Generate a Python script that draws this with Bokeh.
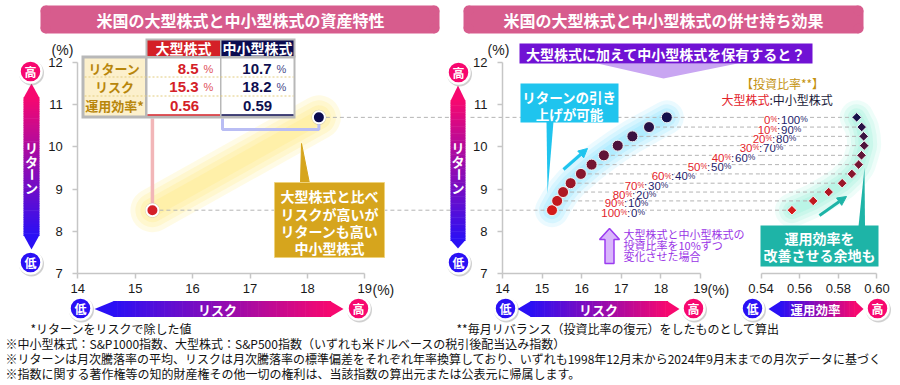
import numpy as np
from bokeh.plotting import figure
from bokeh.models import Range1d, LinearAxis, FixedTicker, Arrow, NormalHead
from bokeh.core.properties import value
from bokeh.embed import file_html
from bokeh.resources import INLINE

# ---------------- data ----------------
assets = ["大型株式", "中小型株式"]
asset_return = [8.5, 10.7]
asset_risk = [15.3, 18.2]
asset_eff = [0.56, 0.59]
table_rows = ["リターン", "リスク", "運用効率*"]

ratio_large = [100, 90, 80, 70, 60, 50, 40, 30, 20, 10, 0]
ratio_small = [0, 10, 20, 30, 40, 50, 60, 70, 80, 90, 100]
mix_risk = [15.25, 15.38, 15.53, 15.72, 15.98, 16.25, 16.56, 16.91, 17.28, 17.70, 18.15]
mix_return = [8.50, 8.72, 8.93, 9.14, 9.36, 9.58, 9.80, 10.03, 10.25, 10.47, 10.70]
mix_eff = [0.556, 0.567, 0.575, 0.582, 0.587, 0.5905, 0.592, 0.5934, 0.5931, 0.5921, 0.5895]

return_ticks = [7, 8, 9, 10, 11, 12]
return_tick_labels = ["7", "8", "9", "10", "11", "12"]
risk_ticks = [14, 15, 16, 17, 18, 19]
risk_tick_labels = ["14", "15", "16", "17", "18", "19"]
eff_ticks = [0.54, 0.56, 0.58, 0.60]
eff_tick_labels = ["0.54", "0.56", "0.58", "0.60"]

title_left = "米国の大型株式と中小型株式の資産特性"
title_right = "米国の大型株式と中小型株式の併せ持ち効果"
callout_lines = ["大型株式と比べ", "リスクが高いが", "リターンも高い", "中小型株式"]
question = "大型株式に加えて中小型株式を保有すると？"
cyan_lines = ["リターンの引き", "上げが可能"]
teal_lines = ["運用効率を", "改善させる余地も"]
purple_lines = ["大型株式と中小型株式の", "投資比率を10%ずつ", "変化させた場合"]
ratio_title = "【投資比率**】"
footnote_left = "*リターンをリスクで除した値"
footnote_right = "**毎月リバランス（投資比率の復元）をしたものとして算出"
footnotes = [
    "※中小型株式：S&P1000指数、大型株式：S&P500指数（いずれも米ドルベースの税引後配当込み指数）",
    "※リターンは月次騰落率の平均、リスクは月次騰落率の標準偏差をそれぞれ年率換算しており、いずれも1998年12月末から2024年9月末までの月次データに基づく",
    "※指数に関する著作権等の知的財産権その他一切の権利は、当該指数の算出元または公表元に帰属します。",
]

# ---------------- layout ----------------
PX0, PX1, PY0, PY1 = 0, 900, 0, 385
JP = value("Noto Sans CJK JP")
LAT = value("Liberation Sans")

p = figure(width=PX1 - PX0, height=PY1 - PY0, x_range=Range1d(PX0, PX1), y_range=Range1d(PY1, PY0),
           x_axis_type=None, y_axis_type=None, toolbar_location=None, output_backend="svg",
           min_border=0, outline_line_color=None, background_fill_color="white",
           border_fill_color="white")
p.title.visible = False
p.xgrid.visible = False
p.ygrid.visible = False


def span(d0, p0, ppu, lo, hi):
    return Range1d(start=d0 + (lo - p0) / ppu, end=d0 + (hi - p0) / ppu)


R1 = (14, 77.3, 57.4)
R2 = (14, 502.0, 39.6)
EF = (0.54, 760.5, 1933.0)
RT = (7, 273.0, -42.2)
p.extra_x_ranges = {"r1": span(*R1, PX0, PX1), "r2": span(*R2, PX0, PX1), "eff": span(*EF, PX0, PX1)}
p.extra_y_ranges = {"ret": span(*RT, PY1, PY0)}


def at(sc, px):
    return sc[0] + (px - sc[1]) / sc[2]


def hexrgb(c):
    c = c.lstrip("#")
    return [int(c[i:i + 2], 16) for i in (0, 2, 4)]


def interp(c1, c2, t):
    a, b = hexrgb(c1), hexrgb(c2)
    return "#%02x%02x%02x" % tuple(int(round(a[k] + (b[k] - a[k]) * t)) for k in range(3))


def txt(x, y, s, size, color, bold=False, align="center", font=JP, **kw):
    p.text(x=[x], y=[y], text=[s], text_font=font, text_font_size=f"{size}px",
           text_font_style="bold" if bold else "normal", text_color=color,
           text_align=align, text_baseline="middle", **kw)


def rrect(l, r, t, b, rad, color):
    p.quad(left=[l + rad], right=[r - rad], top=[t], bottom=[b], fill_color=color, line_color=None)
    p.quad(left=[l], right=[r], top=[t + rad], bottom=[b - rad], fill_color=color, line_color=None)
    p.circle(x=[l + rad, r - rad, l + rad, r - rad], y=[t + rad, t + rad, b - rad, b - rad],
             radius=rad, fill_color=color, line_color=None)


HIGH = "#f7086f"
LOW = "#2a10f5"


def hgrad(xlt, xlb, xrb, xrt, yc, h, cl, cr, n=60):
    xs = np.linspace(xlb, xrb, n + 1)
    cols = [interp(cl, cr, (i + 0.5) / n) for i in range(n)]
    p.quad(left=xs[:-1], right=xs[1:] + 0.6, top=yc - h / 2, bottom=yc + h / 2, fill_color=cols, line_color=None)
    p.patch([xlb + 0.5, xlt, xlb + 0.5], [yc - h / 2, yc, yc + h / 2], fill_color=cl, line_color=None)
    p.patch([xrb - 0.5, xrt, xrb - 0.5], [yc - h / 2, yc, yc + h / 2], fill_color=cr, line_color=None)


def vgrad(xc, w, ytt, ytb, ybb, ybt, ct, cb, n=60):
    ys = np.linspace(ytb, ybb, n + 1)
    cols = [interp(ct, cb, (i + 0.5) / n) for i in range(n)]
    p.quad(left=xc - w / 2, right=xc + w / 2, top=ys[:-1], bottom=ys[1:] + 0.6, fill_color=cols, line_color=None)
    p.patch([xc - w / 2, xc, xc + w / 2], [ytb + 0.5, ytt, ytb + 0.5], fill_color=ct, line_color=None)
    p.patch([xc - w / 2, xc, xc + w / 2], [ybb - 0.5, ybt, ybb - 0.5], fill_color=cb, line_color=None)


def badge(x, y, ch, color):
    p.scatter([x + 1], [y + 1.5], size=25, fill_color="#777777", fill_alpha=0.35, line_color=None)
    p.scatter([x], [y], size=22, fill_color=color, line_color="white", line_width=2.5)
    txt(x, y, ch, 12, "white", bold=True)


def vertical_label(xc, ys, chars):
    for yy, ch in zip(ys, chars):
        txt(xc, yy, ch, 13, "white", bold=True, angle=(np.pi / 2 if ch == "ー" else 0))


def add_axis(xr, yr, fixed, bounds, ticks, labels, side, standoff):
    ax = LinearAxis(x_range_name=xr, y_range_name=yr, fixed_location=fixed, bounds=bounds,
                    ticker=FixedTicker(ticks=ticks, minor_ticks=[]),
                    major_label_overrides={t: l for t, l in zip(ticks, labels)})
    ax.axis_line_color = "#c6c6c6"
    ax.axis_line_width = 1.5
    ax.major_tick_line_color = "#c6c6c6"
    ax.major_tick_line_width = 1.5
    ax.major_tick_in = 0
    ax.major_tick_out = 5
    ax.minor_tick_line_color = None
    ax.major_label_text_font = "Liberation Sans"
    ax.major_label_text_font_size = "13px"
    ax.major_label_text_color = "#1a1a1a"
    ax.major_label_standoff = standoff
    p.add_layout(ax, side)


# ---------------- title banners ----------------
rrect(40, 439, 5, 33, 5, "#d75c8d")
txt(240, 19.5, title_left, 16, "white", bold=True)
rrect(463, 863, 5, 33, 5, "#d75c8d")
txt(663, 19.5, title_right, 16, "white", bold=True)

# ================= LEFT CHART =================
vgrad(31, 16, 83, 97, 235, 249, HIGH, LOW)
vertical_label(31, [147, 161, 174, 187], list("リターン"))
badge(30, 71, "高", HIGH)
badge(30, 262, "低", LOW)
hgrad(94, 113, 330, 343, 308.5, 16, LOW, HIGH)
txt(217, 308.5, "リスク", 13, "white", bold=True)
badge(80, 308, "低", LOW)
badge(358, 308, "高", HIGH)

# yellow glow
for w, a in [(44, 0.22), (34, 0.25), (24, 0.3), (14, 0.35)]:
    p.line(asset_risk, asset_return, x_range_name="r1", y_range_name="ret", line_color="#ffec8a",
           line_alpha=a, line_width=w, line_cap="round")

# dashed reference lines
p.segment(x0=asset_risk, y0=asset_return, x1=[at(R1, 452)] * 2, y1=asset_return, x_range_name="r1",
          y_range_name="ret", line_color="#b4b4b4", line_dash="4 3", line_width=1)

# connectors from table
p.segment(x0=[asset_risk[0]], y0=[asset_return[0]], x1=[asset_risk[0]], y1=[at(RT, 118)],
          x_range_name="r1", y_range_name="ret", line_color="#f2b6b8", line_width=3.5)
p.line(x=[at(R1, 222), at(R1, 222), asset_risk[1], asset_risk[1]],
       y=[at(RT, 118), at(RT, 129), at(RT, 129), asset_return[1]],
       x_range_name="r1", y_range_name="ret", line_color="#b9bdf4", line_width=3)

# points
p.scatter(asset_risk, asset_return, x_range_name="r1", y_range_name="ret", size=15,
          fill_color="#888888", fill_alpha=0.3, line_color=None)
p.scatter(asset_risk, asset_return, x_range_name="r1", y_range_name="ret", size=12,
          fill_color=["#d42027", "#0b0b4f"], line_color="white", line_width=2)

# table
p.quad(left=[145], right=[295], top=[38], bottom=[57], fill_color="#b8b8b8", line_color=None)
p.quad(left=[81], right=[295], top=[55], bottom=[118], fill_color="#b8b8b8", line_color=None)
p.quad(left=[147, 221], right=[219.5, 293], top=[40, 40], bottom=[55.5, 55.5],
       fill_color=["#d42027", "#0b0b50"], line_color=None)
p.quad(left=[84], right=[144.5], top=[58], bottom=[115], fill_color="#fcf0cc", line_color=None)
p.quad(left=[147, 221], right=[219.5, 293], top=[58, 58], bottom=[115, 115],
       fill_color="white", line_color=None)
p.segment(x0=[84, 84], y0=[76.5, 95.5], x1=[293, 293], y1=[76.5, 95.5], line_color="#e3cc7e",
          line_dash="2 2", line_width=1)
p.segment(x0=[147, 221], y0=[114.5, 114.5], x1=[219.5, 293], y1=[114.5, 114.5],
          line_color=["#d42027", "#0b0b50"], line_width=1.5)
txt(183, 47.5, assets[0], 14, "white", bold=True)
txt(257, 47.5, assets[1], 14, "white", bold=True)
row_y = [68, 86, 105]
for yy, lab in zip(row_y, table_rows):
    txt(114, yy, lab, 13, "#b8860b", bold=True)
col_cols = ["#d42027", "#0f0f4f"]
pct_cols = ["#e0505a", "#4a4a8a"]
col_right = [198, 271]
col_center = [184, 257]
for k in range(2):
    txt(col_right[k], row_y[0], f"{asset_return[k]:.1f}", 15, col_cols[k], bold=True, align="right", font=LAT)
    txt(col_right[k] + 10, row_y[0], "%", 11, pct_cols[k], font=LAT)
    txt(col_right[k], row_y[1], f"{asset_risk[k]:.1f}", 15, col_cols[k], bold=True, align="right", font=LAT)
    txt(col_right[k] + 10, row_y[1], "%", 11, pct_cols[k], font=LAT)
    txt(col_center[k], row_y[2], f"{asset_eff[k]:.2f}", 15, col_cols[k], bold=True, font=LAT)

# callout
p.patch([300, 309, 301], [183, 183, 143], fill_color="#d6a51d", line_color="#d6a51d")
p.quad(left=[274], right=[384], top=[182], bottom=[257], fill_color="#d6a51d", line_color="#eed27c", line_width=1)
for yy, s in zip([195, 213, 230, 247], callout_lines):
    txt(329, yy, s, 14, "white", bold=True)

add_axis("r1", "ret", 7, (14, 19), risk_ticks, risk_tick_labels, "below", 5)
add_axis("r1", "ret", 14, (7, 12), return_ticks, return_tick_labels, "left", 10)
txt(62, 49, "(%)", 14, "#222222", font=LAT)
txt(372, 289, "(%)", 14, "#222222", align="left", font=LAT)

# ================= RIGHT CHART =================
vgrad(457.5, 15, 85, 100, 240, 248, HIGH, LOW)
vertical_label(457.5, [147, 161, 174, 187], list("リターン"))
badge(458, 72, "高", HIGH)
badge(458, 262, "低", LOW)
hgrad(517, 530, 667, 679, 308.5, 16, LOW, HIGH)
txt(598, 308.5, "リスク", 13, "white", bold=True)
badge(505, 308, "低", LOW)
badge(693, 308, "高", HIGH)
hgrad(768, 780, 855, 863, 308.5, 16, LOW, HIGH)
txt(815, 308.5, "運用効率", 12.5, "white", bold=True)
badge(752, 308, "低", LOW)
badge(877, 308, "高", HIGH)

# glows
for w, a in [(34, 0.18), (26, 0.22), (18, 0.28), (11, 0.35)]:
    p.line(mix_risk, mix_return, x_range_name="r2", y_range_name="ret", line_color="#8fe4ff",
           line_alpha=a, line_width=w, line_cap="round")
    p.line(mix_eff, mix_return, x_range_name="eff", y_range_name="ret", line_color="#9ff2dc",
           line_alpha=a, line_width=w, line_cap="round")

# dashed level lines
n = len(mix_return)
p.segment(x0=[at(R2, 470)] * 2, y0=[mix_return[0], mix_return[-1]], x1=[mix_risk[0], mix_risk[-1]],
          y1=[mix_return[0], mix_return[-1]], x_range_name="r2", y_range_name="ret",
          line_color="#b4b4b4", line_dash="4 3", line_width=1)
p.segment(x0=mix_risk, y0=mix_return, x1=[at(R2, 760.5)] * n, y1=mix_return, x_range_name="r2",
          y_range_name="ret", line_color="#b4b4b4", line_dash="4 3", line_width=1)
p.segment(x0=[0.54] * n, y0=mix_return, x1=mix_eff, y1=mix_return, x_range_name="eff",
          y_range_name="ret", line_color="#b4b4b4", line_dash="4 3", line_width=1)

# ratio labels
colon_px = [628, 625, 633, 645, 672, 708, 732, 760, 773, 778, 778]
RED, NAVY = "#e3242b", "#1d1d6b"
for i in range(n):
    cx = colon_px[i]
    yy = mix_return[i] - 0.06
    kw = dict(y_range_name="ret", background_fill_color="white")
    sl, ss = str(ratio_large[i]), str(ratio_small[i])
    txt(cx - 8, yy, sl, 11.5, RED, align="right", font=LAT, **kw)
    txt(cx - 8, yy + 0.02, "%", 8.5, RED, align="left", font=LAT, **kw)
    txt(cx, yy, ":", 11.5, NAVY, font=LAT, **kw)
    txt(cx + 2.5, yy, ss, 11.5, NAVY, align="left", font=LAT, **kw)
    txt(cx + 2.5 + 6.4 * len(ss), yy + 0.02, "%", 8.5, NAVY, align="left", font=LAT, **kw)

# markers
mix_cols = [interp("#d41a1a", "#14104a", i / (n - 1)) for i in range(n)]
p.scatter(mix_risk, mix_return, x_range_name="r2", y_range_name="ret", size=11,
          fill_color=mix_cols, line_color="#f4f4f4", line_width=1)
p.scatter(mix_eff, mix_return, x_range_name="eff", y_range_name="ret", marker="square",
          angle=np.pi / 4, size=6.8, fill_color=mix_cols, line_color="#f4f4f4", line_width=1)

# question banner
p.patch([597, 737, 663], [63, 63, 78], fill_color="#c9a6f2", line_color=None)
p.quad(left=[519], right=[812], top=[43], bottom=[63], fill_color="#7012d4", line_color=None)
txt(665.5, 53, question, 14, "white", bold=True)

# cyan box
p.patch([546, 553, 547], [121, 121, 193], fill_color="#1fc4ee", line_color=None)
p.quad(left=[520], right=[618], top=[83], bottom=[122], fill_color="#1fc4ee", line_color=None)
txt(569, 96, cyan_lines[0], 13.5, "white", bold=True)
txt(569, 113, cyan_lines[1], 13.5, "white", bold=True)
p.add_layout(Arrow(x_start=563, y_start=169, x_end=587, y_end=148, line_color="#1fc4ee", line_width=3,
                   end=NormalHead(size=9, fill_color="#1fc4ee", line_color="#1fc4ee")))

# ratio header
txt(782, 83, ratio_title, 12, "#c4920e")
txt(769, 99, "大型株式", 12, "#e3242b", align="right")
txt(769, 99, ":中小型株式", 12, "#1a1a3a", align="left")

# purple note
p.patch([609, 619, 613.5, 613.5, 604.5, 604.5, 599],
        [228, 239, 239, 263, 263, 239, 239], fill_color="#d9b6fb", line_color="#9b3cf0", line_width=1.5)
for yy, s in zip([233, 244, 255], purple_lines):
    txt(623, yy, s, 11, "#9a34e6", align="left")

# teal box
p.patch([858, 864.5, 864], [226, 226, 167], fill_color="#1eb4a7", line_color=None)
p.quad(left=[760], right=[878], top=[225], bottom=[266], fill_color="#1eb4a7", line_color=None)
txt(819, 237.5, teal_lines[0], 14, "white", bold=True)
txt(819, 254.5, teal_lines[1], 14, "white", bold=True)
p.add_layout(Arrow(x_start=819, y_start=215, x_end=846, y_end=196, line_color="#1eb4a7", line_width=3,
                   end=NormalHead(size=9, fill_color="#1eb4a7", line_color="#1eb4a7")))

add_axis("r2", "ret", 7, (14, 19), risk_ticks, risk_tick_labels, "below", 5)
add_axis("r2", "ret", 14, (7, 12), return_ticks, return_tick_labels, "left", 10)
add_axis("eff", "ret", 7, (0.54, 0.60), eff_ticks, eff_tick_labels, "below", 5)
txt(498, 49, "(%)", 14, "#222222", font=LAT)
txt(707, 289, "(%)", 14, "#222222", align="left", font=LAT)

# ---------------- footnotes ----------------
txt(30, 328, footnote_left, 12, "#111111", align="left")
txt(456, 328, footnote_right, 12, "#111111", align="left")
for yy, s in zip([343, 358, 373], footnotes):
    txt(5, yy, s, 12, "#111111", align="left")

open("out.html", "w").write(file_html(p, INLINE))
